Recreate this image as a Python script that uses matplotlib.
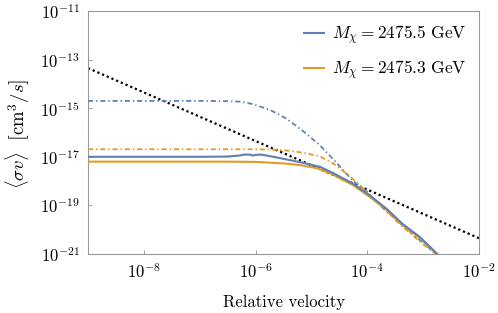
import numpy as np
import matplotlib
matplotlib.use("Agg")
import matplotlib.pyplot as plt

plt.rcParams['mathtext.fontset'] = 'cm'
plt.rcParams['font.family'] = ['cmr10', 'DejaVu Serif']
plt.rcParams['axes.formatter.use_mathtext'] = True
plt.rcParams['axes.unicode_minus'] = False

# ---- data (log10 values) ----
blue_dd_logv = [-9.0, -8.0, -7.0, -6.5, -6.28, -6.05, -5.74, -5.44, -5.15, -4.85, -4.55, -4.26, -4.01, -3.72, -3.40, -3.00, -2.70]
blue_dd_logs = [-14.70, -14.70, -14.70, -14.71, -14.73, -14.83, -15.07, -15.44, -15.94, -16.52, -17.25, -17.98, -18.42, -19.11, -19.75, -20.55, -21.12]

orange_dd_logv = [-9.0, -8.0, -7.0, -6.0, -5.74, -5.44, -5.15, -4.85, -4.62, -4.31, -4.01, -3.65, -3.40, -3.00, -2.70]
orange_dd_logs = [-16.69, -16.69, -16.69, -16.69, -16.70, -16.74, -16.83, -16.98, -17.26, -17.80, -18.45, -19.24, -19.82, -20.60, -21.14]

blue_logv = [-9.0, -8.0, -7.0, -6.5, -6.3, -6.2, -6.1, -6.05, -6.0, -5.9, -5.75, -5.44, -5.15, -4.85, -4.62, -4.26, -3.96, -3.65, -3.37, -3.06, -2.70]
blue_logs = [-17.00, -17.00, -17.00, -16.99, -16.95, -16.91, -16.91, -16.95, -16.92, -16.91, -16.97, -17.11, -17.25, -17.41, -17.66, -18.10, -18.58, -19.15, -19.76, -20.30, -21.10]

orange_logv = [-9.0, -8.0, -7.0, -6.5, -6.0, -5.5, -5.21, -4.90, -4.62, -4.49, -4.26, -3.96, -3.65, -3.37, -3.06, -2.70]
orange_logs = [-17.20, -17.20, -17.20, -17.20, -17.21, -17.27, -17.34, -17.47, -17.72, -17.89, -18.16, -18.64, -19.19, -19.81, -20.34, -21.12]

black_logv = [-9.0, -2.0]
black_logs = [-13.35, -20.35]

xticks = [1e-8, 1e-6, 1e-4, 1e-2]
yticks = [1e-21, 1e-19, 1e-17, 1e-15, 1e-13, 1e-11]
labels = [r'$M_\chi = 2475.5\ \mathrm{GeV}$', r'$M_\chi = 2475.3\ \mathrm{GeV}$']

BLUE = '#5E81B5'
ORANGE = '#E19C24'
DASHDOT = (0, (2.8, 1.6, 0.8, 1.6))

def p(a):
    return 10.0 ** np.asarray(a)

fig = plt.figure(figsize=(4.98, 3.13), dpi=100)
ax = fig.add_axes([88/498, 1-254/313, (479-88)/498, (254-11)/313])

ax.plot(p(black_logv), p(black_logs), color='black', lw=1.6, ls=(0, (1, 1.3)), zorder=2)
ax.plot(p(blue_dd_logv), p(blue_dd_logs), color=BLUE, lw=1.3, ls=DASHDOT, zorder=3)
ax.plot(p(orange_dd_logv), p(orange_dd_logs), color=ORANGE, lw=1.3, ls=DASHDOT, zorder=3)
ax.plot(p(orange_logv), p(orange_logs), color=ORANGE, lw=1.5, zorder=3, label=labels[1])
ax.plot(p(blue_logv), p(blue_logs), color=BLUE, lw=1.5, zorder=4, label=labels[0])

ax.set_xscale('log')
ax.set_yscale('log')
ax.set_xlim(1e-9, 1e-2)
ax.set_ylim(1e-21, 1e-11)
ax.set_xticks(xticks)
ax.set_yticks(yticks)
ax.minorticks_off()
ax.tick_params(direction='in', length=3, width=0.6, color='#999999', labelsize=12, pad=6)
for s in ax.spines.values():
    s.set_color('#999999')
    s.set_linewidth(0.8)

ax.set_xlabel('Relative velocity', fontsize=12, labelpad=10)
fig.text(18/498, 1-134/313, r'$\langle\sigma v\rangle\ \ \left[\mathrm{cm}^3/s\right]$',
         fontsize=13.5, rotation=90, ha='center', va='center')

h, l = ax.get_legend_handles_labels()
ax.legend([h[1], h[0]], [l[1], l[0]], loc='upper right', frameon=False, fontsize=12.5,
          handlelength=1.15, handletextpad=0.45, labelspacing=0.65, borderaxespad=0.35)

fig.savefig('out.png', dpi=100)
